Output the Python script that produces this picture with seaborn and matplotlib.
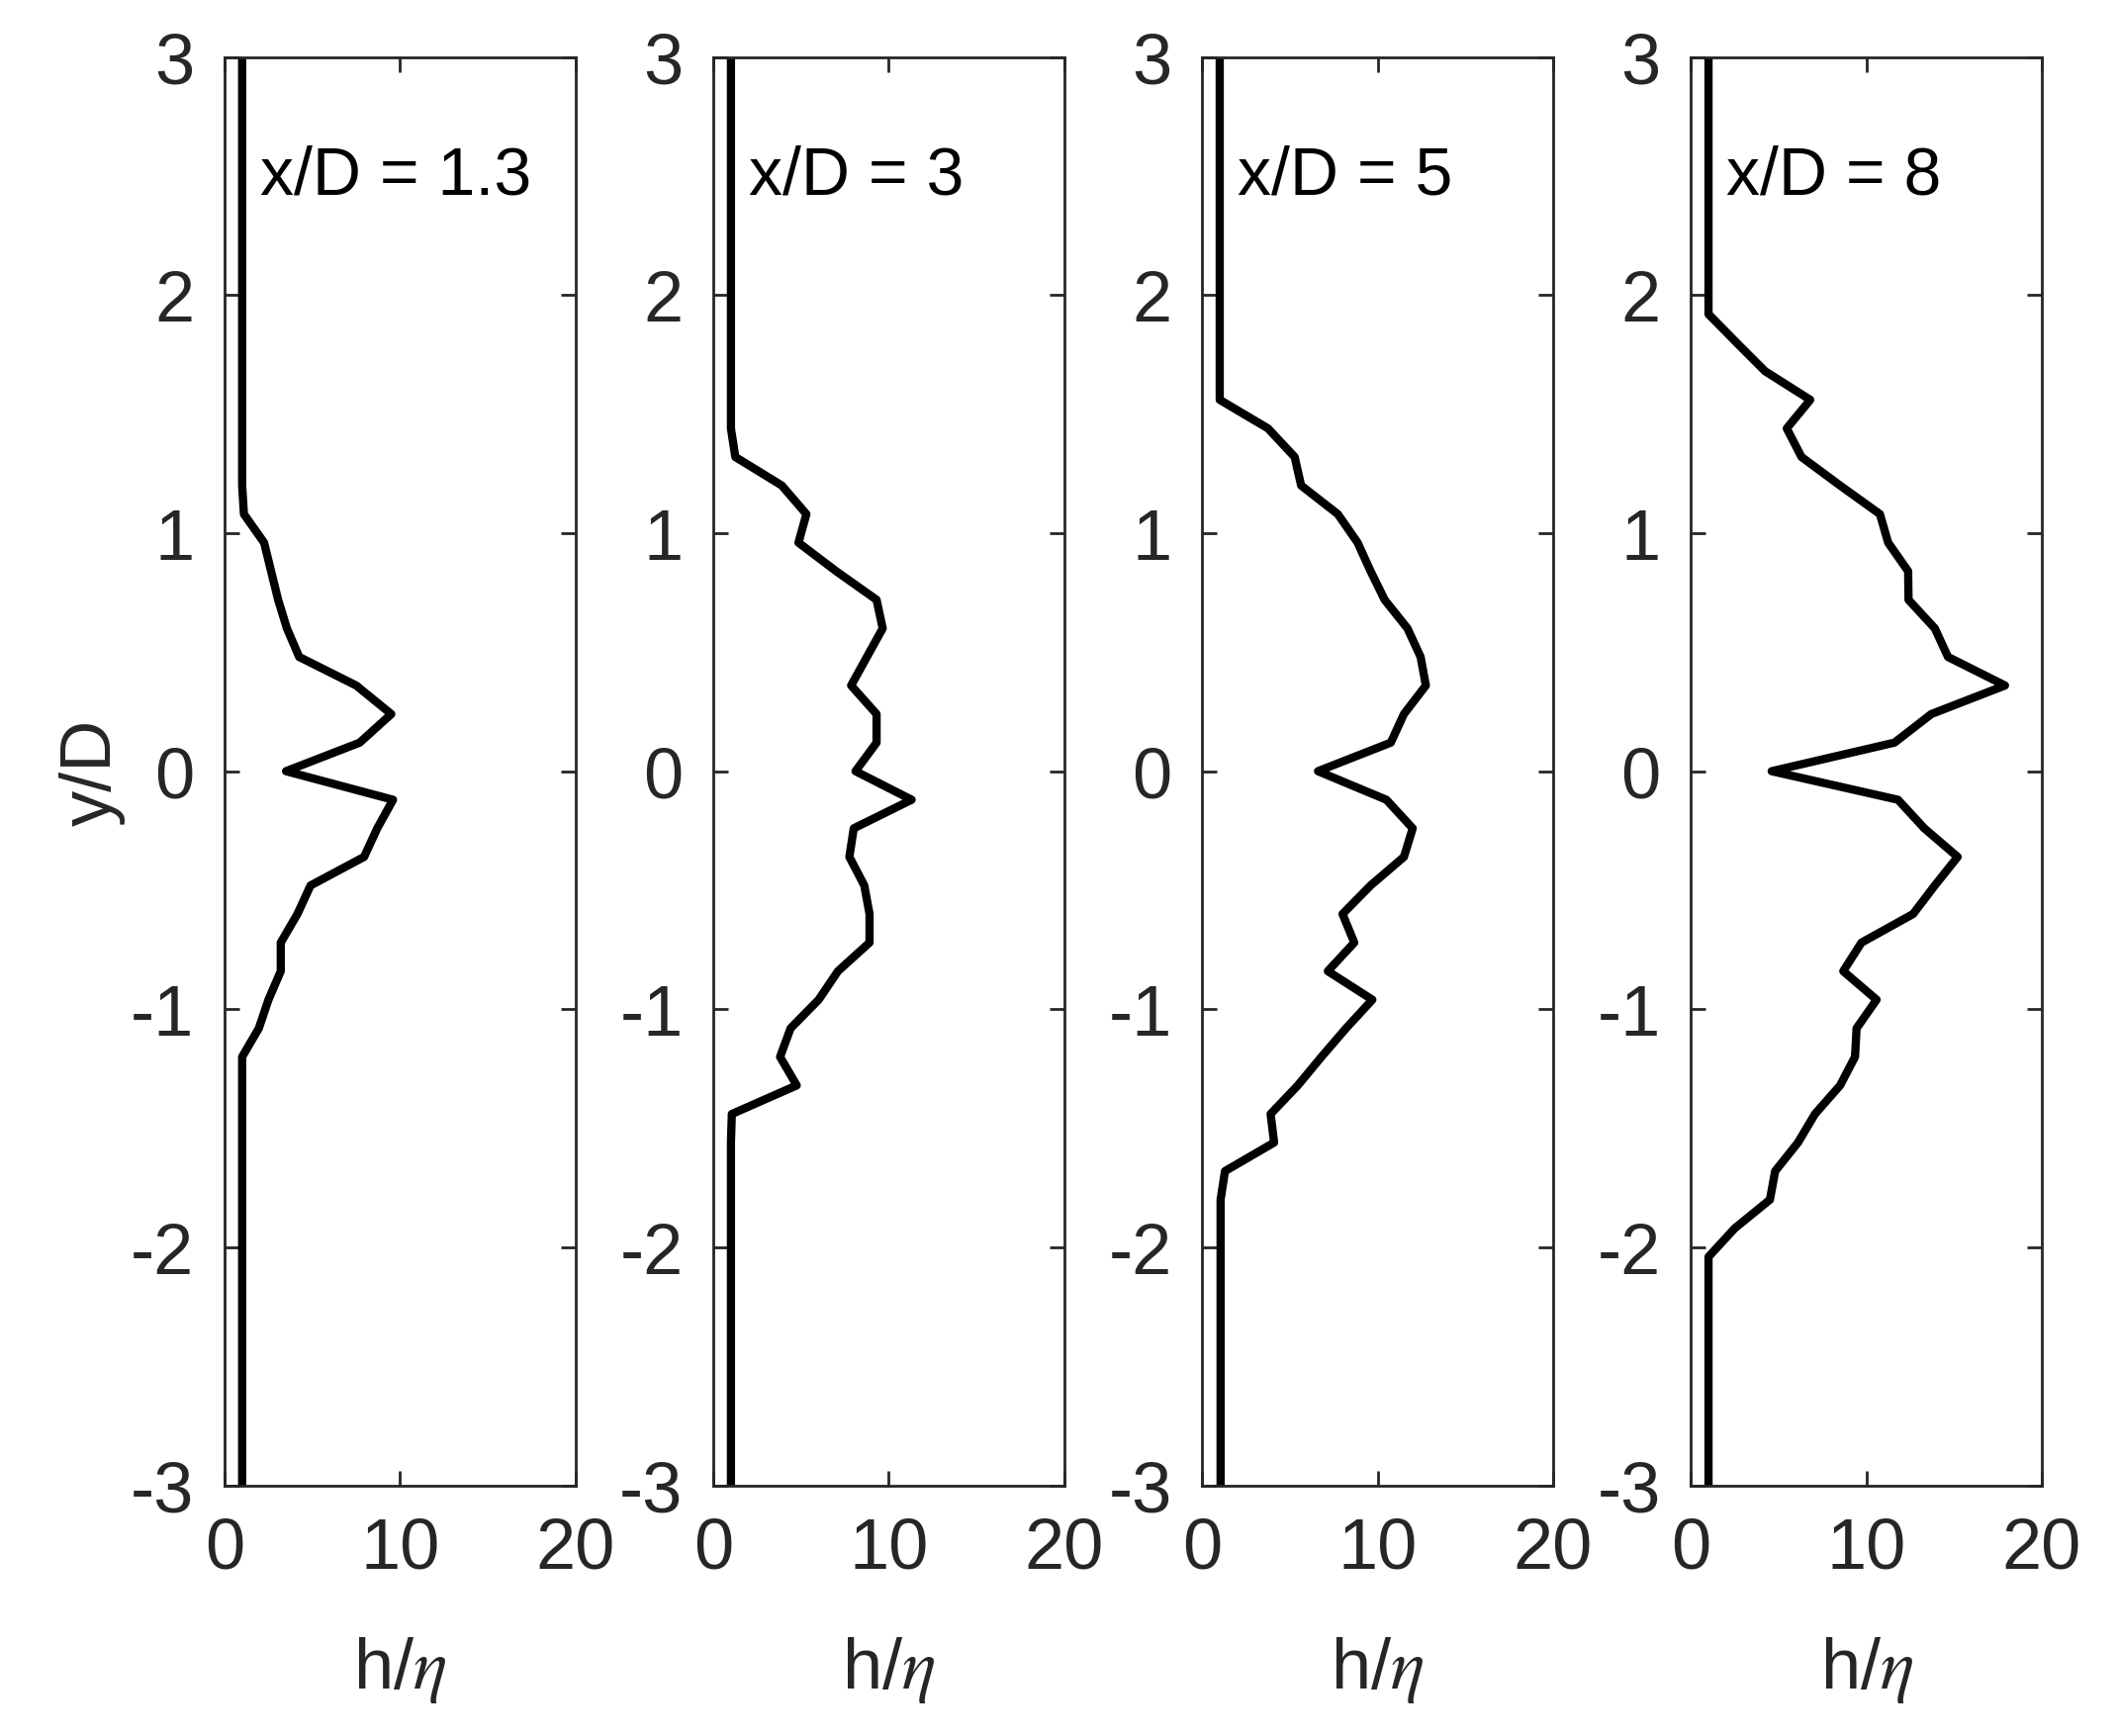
import numpy as np
import pandas as pd
import seaborn as sns
import matplotlib.pyplot as plt

# ---------------------------------------------------------------------------
# data (y/D stations, h/eta at each station)
# ---------------------------------------------------------------------------
y_d = [3.0, 2.04, 1.92, 1.80, 1.68, 1.56, 1.44, 1.32, 1.20,
       1.08, 0.96, 0.84, 0.72, 0.60, 0.48, 0.36, 0.24, 0.12, 0.0,
       -0.12, -0.24, -0.36, -0.48, -0.60, -0.72, -0.84, -0.96, -1.08,
       -1.20, -1.32, -1.44, -1.56, -1.68, -1.80, -1.92, -2.04, -3.0]

h_x13 = [1.0, 1.0, 1.0, 1.0, 1.0, 1.0, 1.0, 1.0, 1.0,
         1.1, 2.25, 2.65, 3.05, 3.55, 4.25, 7.5, 9.5, 7.7, 3.5,
         9.6, 8.7, 7.95, 4.9, 4.15, 3.2, 3.2, 2.5, 1.95,
         1.0, 1.0, 1.0, 1.0, 1.0, 1.0, 1.0, 1.0, 1.0]

h_x3 = [1.0, 1.0, 1.0, 1.0, 1.0, 1.0, 1.0, 1.25, 3.9,
        5.3, 4.85, 7.0, 9.3, 9.65, 8.75, 7.85, 9.3, 9.3, 8.1,
        11.3, 8.0, 7.75, 8.6, 8.9, 8.9, 7.1, 6.0, 4.4,
        3.8, 4.75, 1.05, 1.0, 1.0, 1.0, 1.0, 1.0, 1.0]

h_x5 = [1.0, 1.0, 1.0, 1.0, 1.0, 1.0, 3.75, 5.27, 5.64,
        7.73, 8.86, 9.6, 10.4, 11.7, 12.45, 12.75, 11.5, 10.75, 6.6,
        10.5, 12.0, 11.5, 9.6, 8.0, 8.67, 7.16, 9.7, 8.2,
        6.8, 5.45, 3.9, 4.1, 1.3, 1.05, 1.05, 1.05, 1.05]

h_x8 = [1.0, 1.0, 1.0, 2.6, 4.23, 6.8, 5.46, 6.3, 8.5,
        10.77, 11.24, 12.38, 12.4, 13.9, 14.65, 17.9, 13.7, 11.6, 4.6,
        11.8, 13.3, 15.2, 13.9, 12.66, 9.72, 8.68, 10.58, 9.44,
        9.35, 8.5, 7.07, 6.1, 4.8, 4.5, 2.5, 1.0, 1.0]

station_labels = ['x/D = 1.3', 'x/D = 3', 'x/D = 5', 'x/D = 8']
x_ticks = [0, 10, 20]
y_ticks = [-3, -2, -1, 0, 1, 2, 3]

profiles = [h_x13, h_x3, h_x5, h_x8]
df = pd.concat(
    [pd.DataFrame({'station': lab, 'y': y_d, 'h': h})
     for lab, h in zip(station_labels, profiles)],
    ignore_index=True)

# ---------------------------------------------------------------------------
# styling
# ---------------------------------------------------------------------------
sns.set_style('ticks')
plt.rcParams['font.family'] = ['Liberation Sans', 'DejaVu Sans']
plt.rcParams['mathtext.fontset'] = 'stix'
plt.rcParams['axes.unicode_minus'] = False
AX_COL = '#262626'

fig, axes = plt.subplots(1, 4, figsize=(10.7, 8.78), dpi=200)
fig.subplots_adjust(left=0.1061, right=0.9645, bottom=0.1443, top=0.9666,
                    wspace=0.393)

for i, (ax, lab) in enumerate(zip(axes, station_labels)):
    sub = df[df['station'] == lab]
    sns.lineplot(data=sub, x='h', y='y', sort=False, estimator=None,
                 color='black', linewidth=3.0, ax=ax)

    ax.set_xlim(0, 20)
    ax.set_ylim(-3, 3)
    ax.set_xticks(x_ticks)
    ax.set_yticks(y_ticks)
    ax.tick_params(direction='in', length=5.5, width=1.0, top=True,
                   right=True, labelsize=26, pad=11, colors=AX_COL)
    for sp in ax.spines.values():
        sp.set_visible(True)
        sp.set_linewidth(1.0)
        sp.set_color(AX_COL)

    ax.text(2.0, 2.5, lab, fontsize=24.5, ha='left', va='center',
            color='black')
    ax.set_xlabel('h/$\\eta$', fontsize=26, color=AX_COL, labelpad=19)
    if i == 0:
        ax.set_ylabel('y/D', fontsize=26, color=AX_COL, labelpad=2)
    else:
        ax.set_ylabel('')

fig.savefig('out.png', dpi=200)
plt.close(fig)
